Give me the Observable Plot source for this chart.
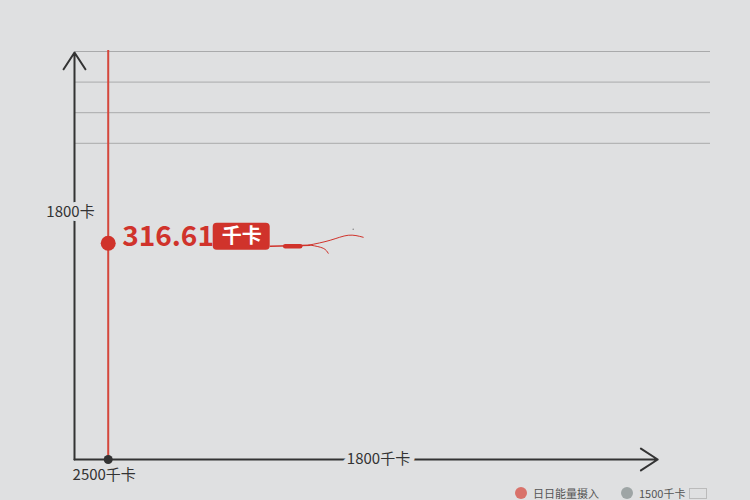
<!DOCTYPE html>
<html><head><meta charset="utf-8">
<script src="https://cdn.jsdelivr.net/npm/d3@7"></script>
<script src="https://cdn.jsdelivr.net/npm/@observablehq/plot@0.6"></script>
<style>
html,body{margin:0;padding:0;background:#dfe0e1;width:750px;height:500px;overflow:hidden;font-family:"Noto Sans CJK SC","Noto Sans",sans-serif;}
#chart{position:relative;width:750px;height:500px;}
.legend{position:absolute;top:487px;left:515px;display:flex;align-items:center;font-size:11px;line-height:12px;color:#555;white-space:nowrap;}
.legend .item{display:flex;align-items:center;margin-right:22px;}
.legend .sw{width:12px;height:12px;border-radius:50%;margin-right:6px;}
.legend .box{display:inline-block;width:16px;height:9px;border:1px solid #bbb;margin-left:4px;}
</style></head><body>
<div id="chart"></div>
<script>
// ---- data ----
const gridValues = [2000, 1850, 1700, 1550];
const markerX = [5.3];
const markerY = [1060];
const markerLabel = ["316.61"];
const unitLabel = ["千卡"];
const yAxisLabel = ["1800卡"];
const yAxisLabelValue = [1211];
const xAxisLabel = ["1800千卡"];
const xAxisLabelValue = [47.8];
const baseLabel = ["2500千卡"];
const legendLabels = ["日日能量摄入", "1500千卡"];
const legendColors = ["#d9726a", "#9ea5a5"];

const bg = "#dfe0e1";
const red = "#d0332b";
const ink = "#333333";

// helper scales mirroring the plot scales (for decorative annotation offsets)
const xs = d3.scaleLinear().domain([0, 100]).range([74, 710]);
const ys = d3.scaleLinear().domain([0, 2000]).range([459, 51]);
const px = (dx) => xs.invert(xs(markerX[0]) + dx);
const py = (dy) => ys.invert(ys(markerY[0]) + dy);

const mx = markerX[0];
const boxData = [{x1: px(105), x2: px(162), y1: py(-20), y2: py(7)}];
const connector = [{x: px(162), y: py(3)}, {x: px(202), y: py(2)}];
const branchA = [
  {x: px(200), y: py(2)}, {x: px(222), y: py(-3)}, {x: px(240), y: py(-8)}, {x: px(255), y: py(-6)}
];
const branchB = [
  {x: px(203), y: py(2)}, {x: px(215), y: py(5)}, {x: px(220), y: py(10)}
];
const thick = [{x: px(177), y: py(3)}, {x: px(192), y: py(3)}];

const chart = Plot.plot({
  width: 750, height: 486,
  marginLeft: 74, marginRight: 40, marginTop: 51, marginBottom: 27,
  x: {domain: [0, 100], axis: null},
  y: {domain: [0, 2000], axis: null},
  style: {background: "transparent", fontFamily: '"Noto Sans CJK SC","Noto Sans",sans-serif', overflow: "visible"},
  marks: [
    Plot.ruleY(gridValues, {x1: 0.15, x2: 100, stroke: "#a9aaab", strokeWidth: 1}),
    Plot.ruleX(markerX, {y1: 0, y2: 2005, stroke: "#d4473c", strokeWidth: 2}),
    Plot.arrow([0], {x1: () => 0, y1: () => 0, x2: () => 0, y2: () => 1995, stroke: ink, strokeWidth: 2, headLength: 15, headAngle: 66}),
    Plot.arrow([0], {x1: () => 0, y1: () => 0, x2: () => 91.7, y2: () => 0, stroke: ink, strokeWidth: 2, headLength: 15, headAngle: 66}),
    Plot.text(yAxisLabel, {x: () => 0, y: () => yAxisLabelValue[0], text: d => d, dx: -4, fontSize: 15, fill: ink, stroke: bg, strokeWidth: 8}),
    Plot.text(xAxisLabel, {x: () => xAxisLabelValue[0], y: () => 0, text: d => d, fontSize: 15, fill: ink, stroke: bg, strokeWidth: 10}),
    Plot.text(baseLabel, {x: () => mx, y: () => 0, text: d => d, dx: -4, dy: 16, fontSize: 15, fill: ink}),
    Plot.dot(markerX, {x: d => d, y: () => 0, r: 4.5, fill: ink}),
    Plot.dot(markerX, {x: d => d, y: () => markerY[0], r: 7.5, fill: red}),
    Plot.text(markerLabel, {x: () => mx, y: () => markerY[0], text: d => d, dx: 14, dy: -6, textAnchor: "start", fontSize: 28, fontWeight: "bold", fill: red, style: "letter-spacing:-1.9px"}),
    Plot.rect(boxData, {x1: "x1", x2: "x2", y1: "y1", y2: "y2", fill: red, rx: 4}),
    Plot.text(unitLabel, {x: () => (boxData[0].x1 + boxData[0].x2) / 2, y: () => (boxData[0].y1 + boxData[0].y2) / 2, text: d => d, fontSize: 20, fontWeight: "bold", fill: "white"}),
    Plot.line(connector, {x: "x", y: "y", stroke: red, strokeWidth: 1.3}),
    Plot.line(thick, {x: "x", y: "y", stroke: red, strokeWidth: 4.5}),
    Plot.line(branchA, {x: "x", y: "y", stroke: red, strokeWidth: 1, curve: "natural"}),
    Plot.line(branchB, {x: "x", y: "y", stroke: red, strokeWidth: 1, curve: "natural"}),
    Plot.dot([0], {x: () => px(245), y: () => py(-14), r: 0.8, fill: "#888"})
  ]
});
document.getElementById("chart").appendChild(chart);

const legend = document.createElement("div");
legend.className = "legend";
legendLabels.forEach((l, i) => {
  const item = document.createElement("div");
  item.className = "item";
  item.innerHTML = `<span class="sw" style="background:${legendColors[i]}"></span><span>${l}</span>` + (i === 1 ? '<span class="box"></span>' : "");
  legend.appendChild(item);
});
document.getElementById("chart").appendChild(legend);
</script>
</body></html>
